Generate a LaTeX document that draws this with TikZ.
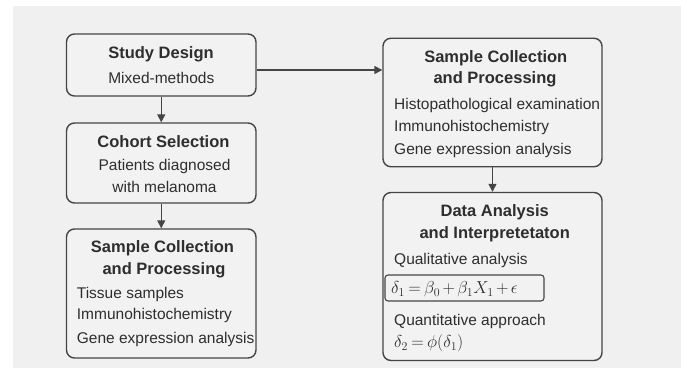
\documentclass[tikz,border=0pt]{standalone}
\usepackage{fontspec}
\setmainfont{Liberation Sans}
\usetikzlibrary{arrows.meta}
\definecolor{bgc}{HTML}{F0F0F0}
\definecolor{boxc}{HTML}{F2F2F2}
\definecolor{linec}{HTML}{454545}
\definecolor{txtc}{HTML}{2E2E2E}
\begin{document}
\begin{tikzpicture}[x=1pt,y=-1pt,
 box/.style={draw=linec, line width=1.4pt, rounded corners=8pt, fill=boxc, inner sep=0pt},
 ttl/.style={font=\fontsize{16.5}{20}\selectfont\bfseries, text=txtc, anchor=base, inner sep=0pt},
 bdy/.style={font=\fontsize{15.5}{19}\selectfont, text=txtc, inner sep=0pt},
 mth/.style={font=\fontsize{17}{20}\selectfont, text=txtc, inner sep=0pt, anchor=base west,
   execute at begin node={\thickmuskip=3.5mu\medmuskip=2.5mu}},
 arr/.style={draw=linec, line width=1.4pt, -{Triangle[length=8pt,width=8pt]}}]
\useasboundingbox (0,0) rectangle (681,369);
\fill[white] (0,0) rectangle (681,369);
\fill[bgc] (13,6) rectangle (681,368);

% boxes
\node[box, minimum width=189.5pt, minimum height=62pt] (A) at (161.25,65) {};
\node[box, minimum width=189.5pt, minimum height=80pt] (B) at (161.25,163) {};
\node[box, minimum width=189.5pt, minimum height=129pt] (C) at (161.25,293.5) {};
\node[box, minimum width=219pt, minimum height=128.5pt] (D) at (492.5,102.5) {};
\node[box, minimum width=219pt, minimum height=168pt] (E) at (492.5,276.5) {};

% box A
\node[ttl] (a1) at (161,58.3) {Study Design};
\node[bdy, anchor=base] (a2) at (161.3,83.3) {Mixed-methods};
% box B
\node[ttl] (b1) at (163.5,147.3) {Cohort Selection};
\node[bdy, anchor=base] (b2) at (164.5,170) {Patients diagnosed};
\node[bdy, anchor=base] (b3) at (164.5,192.7) {with melanoma};
% box C
\node[ttl] (c1) at (162.5,252.7) {Sample Collection};
\node[ttl] (c2) at (164,274.3) {and Processing};
\node[bdy, anchor=base west] (c3) at (76.7,298.3) {Tissue samples};
\node[bdy, anchor=base west] (c4) at (76.7,319.8) {Immunohistochemistry};
\node[bdy, anchor=base west] (c5) at (76.7,343.3) {Gene expression analysis};
% box D
\node[ttl] (d1) at (495.8,62.3) {Sample Collection};
\node[ttl] (d2) at (495,84) {and Processing};
\node[bdy, anchor=base west] (d3) at (394,109.3) {Histopathological examination};
\node[bdy, anchor=base west] (d4) at (394,131.7) {Immunohistochemistry};
\node[bdy, anchor=base west] (d5) at (394,154) {Gene expression analysis};
% box E
\node[ttl] (e1) at (494.7,216.7) {Data Analysis};
\node[ttl] (e2) at (494.7,238.3) {and Interpretetaton};
\node[bdy, anchor=base west] (e3) at (394,264) {Qualitative analysis};
\node[draw=linec, line width=1.1pt, rounded corners=3pt, minimum width=159pt, minimum height=26pt, inner sep=0pt] (f) at (464.5,288) {};
\node[mth] (f1) at (391,293.5) {$\delta_1=\beta_0+\beta_1X_1+\epsilon$};
\node[bdy, anchor=base west] (e4) at (394,325.7) {Quantitative approach};
\node[mth] (f2) at (394,347.5) {$\delta_2=\phi(\delta_1)$};

% connectors
\draw[arr] (A.south) -- (B.north);
\draw[arr] (B.south) -- (C.north);
\draw[arr] ([yshift=-5pt]A.east) -- ([yshift=-5pt]A.east -| D.west);
\draw[arr] (D.south) -- (E.north);
\end{tikzpicture}
\end{document}
